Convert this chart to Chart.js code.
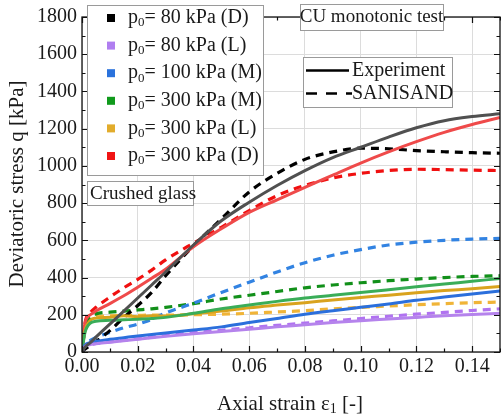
<!DOCTYPE html>
<html>
<head>
<meta charset="utf-8">
<script src="https://cdn.jsdelivr.net/npm/chart.js@4.4.1/dist/chart.umd.min.js"></script>
<style>
  html, body { margin: 0; padding: 0; background: #fff; }
  #wrap { width: 501px; height: 417px; }
</style>
</head>
<body>
<div id="wrap"><canvas id="grafica" width="501" height="417"></canvas></div>
<script>
// strain values (shared by all curves)
const strain = [0, 0.001, 0.003, 0.005, 0.01, 0.015, 0.02, 0.025, 0.03, 0.04, 0.05, 0.06, 0.07, 0.08, 0.09, 0.10, 0.11, 0.12, 0.13, 0.14, 0.15];

// Experiment (solid)
const exp80D  = [0, 25, 50, 80, 150, 220, 290, 360, 430, 575, 705, 805, 895, 975, 1045, 1100, 1155, 1205, 1243, 1265, 1280];
const exp80L  = [0, 28, 40, 45, 52, 60, 68, 76, 84, 98, 110, 122, 135, 146, 158, 168, 177, 186, 195, 202, 208];
const exp100M = [0, 35, 50, 57, 68, 77, 86, 94, 102, 118, 135, 158, 180, 203, 222, 240, 258, 278, 295, 312, 328];
const exp300M = [0, 100, 155, 165, 170, 173, 176, 180, 186, 208, 232, 252, 272, 290, 305, 320, 335, 350, 365, 380, 395];
const exp300L = [0, 110, 170, 182, 187, 195, 190, 195, 193, 205, 220, 238, 252, 265, 280, 293, 305, 318, 330, 340, 352];
const exp300D = [0, 150, 200, 220, 260, 302, 348, 396, 445, 565, 662, 750, 818, 885, 950, 1015, 1075, 1130, 1180, 1222, 1260];

// SANISAND (dashed)
const san80D  = [0, 15, 35, 55, 115, 185, 250, 320, 410, 570, 715, 860, 960, 1035, 1075, 1095, 1092, 1082, 1076, 1071, 1068];
const san80L  = [0, 28, 40, 45, 54, 63, 71, 80, 88, 104, 117, 130, 143, 155, 167, 180, 192, 203, 213, 223, 232];
const san100M = [0, 40, 62, 78, 105, 130, 150, 175, 210, 262, 320, 375, 430, 480, 520, 550, 575, 590, 600, 607, 610];
const san300M = [0, 120, 190, 205, 214, 220, 226, 232, 240, 260, 285, 305, 325, 345, 360, 372, 383, 392, 400, 406, 410];
const san300L = [0, 130, 182, 190, 194, 196, 197, 198, 198, 200, 203, 208, 215, 222, 232, 240, 247, 254, 260, 265, 268];
const san300D = [0, 150, 212, 240, 295, 345, 390, 440, 495, 585, 670, 760, 840, 895, 935, 960, 975, 982, 980, 977, 975];

const etiquetas = ["80 kPa (D)", "80 kPa (L)", "100 kPa (M)", "300 kPa (M)", "300 kPa (L)", "300 kPa (D)"];
const coloresLeyenda = ["#000000", "#b07ef0", "#2a72dc", "#109a1c", "#e2ac2c", "#f01414"];
const coloresExp = ["#505050", "#b583ec", "#2b6fdc", "#3aad58", "#d9a31e", "#ef4a4a"];
const coloresSan = ["#000000", "#b072f0", "#3283e2", "#12901a", "#f0b438", "#f01010"];

const xTicks = [0, 0.02, 0.04, 0.06, 0.08, 0.10, 0.12, 0.14];
const yTicks = [0, 200, 400, 600, 800, 1000, 1200, 1400, 1600, 1800];

const FONT = "'Liberation Serif', 'Times New Roman', serif";

function serie(vals) {
  return strain.map((x, i) => ({ x: x, y: vals[i] }));
}

const expSeries = [exp80D, exp80L, exp100M, exp300M, exp300L, exp300D];
const sanSeries = [san80D, san80L, san100M, san300M, san300L, san300D];

const datasets = [];
expSeries.forEach((v, i) => {
  datasets.push({
    label: "Exp " + etiquetas[i],
    data: serie(v),
    borderColor: coloresExp[i],
    borderWidth: 3,
    pointRadius: 0,
    cubicInterpolationMode: "monotone",
    fill: false
  });
});
sanSeries.forEach((v, i) => {
  datasets.push({
    label: "SANISAND " + etiquetas[i],
    data: serie(v),
    borderColor: coloresSan[i],
    borderWidth: 3.2,
    borderDash: [8, 6],
    pointRadius: 0,
    cubicInterpolationMode: "monotone",
    fill: false
  });
});

// texto con subindice
function textoSub(ctx, x, y, base, sub, resto, size) {
  ctx.font = size + "px " + FONT;
  ctx.fillText(base, x, y);
  let w = ctx.measureText(base).width;
  ctx.font = Math.round(size * 0.65) + "px " + FONT;
  ctx.fillText(sub, x + w, y + size * 0.25);
  w += ctx.measureText(sub).width;
  ctx.font = size + "px " + FONT;
  ctx.fillText(resto, x + w, y);
  return w + ctx.measureText(resto).width;
}

function caja(ctx, x, y, w, h) {
  ctx.save();
  ctx.fillStyle = "#fff";
  ctx.fillRect(x, y, w, h);
  ctx.strokeStyle = "#9a9a9a";
  ctx.lineWidth = 1;
  ctx.strokeRect(x + 0.5, y + 0.5, w, h);
  ctx.restore();
}

const decoraciones = {
  id: "decoraciones",
  afterDatasetsDraw(chart) {
    const ctx = chart.ctx;
    const a = chart.chartArea;
    const xs = chart.scales.x, ys = chart.scales.y;
    ctx.save();

    // marco
    ctx.strokeStyle = "#111";
    ctx.lineWidth = 1.3;
    ctx.strokeRect(a.left, a.top, a.right - a.left, a.bottom - a.top);

    // ticks hacia adentro
    ctx.lineWidth = 1.2;
    ctx.beginPath();
    for (let v = 0; v <= 0.1500001; v += 0.01) {
      const px = Math.round(xs.getPixelForValue(v)) + 0.5;
      const major = Math.abs(v / 0.02 - Math.round(v / 0.02)) < 1e-6;
      const len = major ? 6 : 3.5;
      ctx.moveTo(px, a.bottom); ctx.lineTo(px, a.bottom - len);
      ctx.moveTo(px, a.top); ctx.lineTo(px, a.top + len);
    }
    for (let v = 0; v <= 1800; v += 100) {
      const py = Math.round(ys.getPixelForValue(v)) + 0.5;
      const len = (v % 200 === 0) ? 6 : 3.5;
      ctx.moveTo(a.left, py); ctx.lineTo(a.left + len, py);
      ctx.moveTo(a.right, py); ctx.lineTo(a.right - len, py);
    }
    ctx.stroke();

    ctx.fillStyle = "#1a1a1a";
    ctx.textBaseline = "middle";
    ctx.textAlign = "left";

    // leyenda de presiones
    caja(ctx, 87, 5, 176, 170);
    for (let i = 0; i < etiquetas.length; i++) {
      const cy = 18 + i * 27.6;
      ctx.fillStyle = coloresLeyenda[i];
      ctx.fillRect(107, cy - 4, 8, 8);
      ctx.fillStyle = "#1a1a1a";
      textoSub(ctx, 128, cy, "p", "0", "= " + etiquetas[i], 20);
    }

    // CU monotonic test
    caja(ctx, 300, 4, 143, 26);
    ctx.font = "19px " + FONT;
    ctx.textAlign = "center";
    ctx.fillText("CU monotonic test", 371.5, 17.5);

    // Experiment / SANISAND
    caja(ctx, 303, 57, 149, 50);
    ctx.strokeStyle = "#000";
    ctx.lineWidth = 2.5;
    ctx.beginPath();
    ctx.moveTo(306, 70.5); ctx.lineTo(349, 70.5);
    ctx.stroke();
    ctx.setLineDash([11, 9]);
    ctx.beginPath();
    ctx.moveTo(306, 93.5); ctx.lineTo(352, 93.5);
    ctx.stroke();
    ctx.setLineDash([]);
    ctx.textAlign = "left";
    ctx.font = "20px " + FONT;
    ctx.fillText("Experiment", 352, 71);
    ctx.fillText("SANISAND", 352, 94);

    // Crushed glass
    caja(ctx, 87, 181, 106, 24);
    ctx.font = "19px " + FONT;
    ctx.fillText("Crushed glass", 90, 194);

    // titulos de ejes
    ctx.save();
    ctx.translate(17, 184);
    ctx.rotate(-Math.PI / 2);
    ctx.textAlign = "center";
    ctx.font = "21px " + FONT;
    ctx.fillText("Deviatoric stress q [kPa]", 0, 0);
    ctx.restore();

    ctx.textAlign = "left";
    ctx.font = "21px " + FONT;
    const w1 = ctx.measureText("Axial strain \u03b5").width;
    ctx.font = "14px " + FONT;
    const w2 = ctx.measureText("1").width;
    ctx.font = "21px " + FONT;
    const w3 = ctx.measureText(" [-]").width;
    const x0 = 290 - (w1 + w2 + w3) / 2;
    textoSub(ctx, x0, 404, "Axial strain \u03b5", "1", " [-]", 21);

    ctx.restore();
  }
};

const ctx1 = document.getElementById("grafica").getContext("2d");
const chart1 = new Chart(ctx1, {
  type: "line",
  data: { datasets: datasets },
  options: {
    responsive: false,
    animation: false,
    devicePixelRatio: 1,
    layout: { padding: { top: 15, right: 1, left: 0, bottom: 0 } },
    plugins: {
      legend: { display: false },
      tooltip: { enabled: false }
    },
    scales: {
      x: {
        type: "linear",
        min: 0,
        max: 0.15,
        afterBuildTicks: s => { s.ticks = xTicks.map(v => ({ value: v })); },
        afterFit: s => { s.height = 65; },
        border: { display: false },
        grid: { color: "#dcdcdc", lineWidth: 1, drawTicks: false },
        ticks: {
          padding: 3,
          color: "#1a1a1a",
          font: { family: FONT, size: 20 },
          maxRotation: 0,
          callback: v => v.toFixed(2)
        }
      },
      y: {
        type: "linear",
        min: 0,
        max: 1800,
        afterBuildTicks: s => { s.ticks = yTicks.map(v => ({ value: v })); },
        afterFit: s => { s.width = 82; },
        border: { display: false },
        grid: { color: "#dcdcdc", lineWidth: 1, drawTicks: false },
        ticks: {
          padding: 5,
          color: "#1a1a1a",
          font: { family: FONT, size: 20 },
          callback: v => String(v)
        }
      }
    }
  },
  plugins: [decoraciones]
});
</script>
</body>
</html>
